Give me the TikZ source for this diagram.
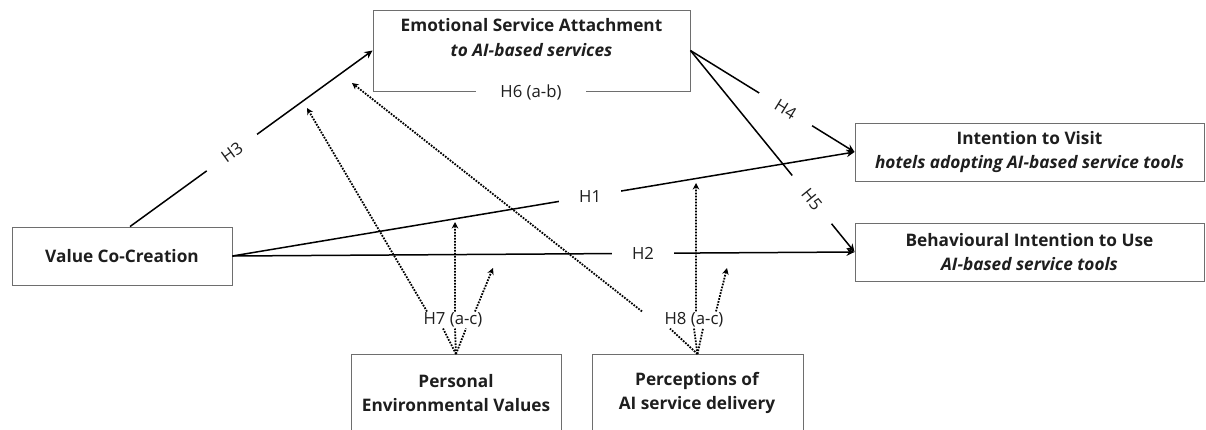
\documentclass[tikz,border=0pt]{standalone}
\usepackage{fontspec}
\setmainfont{Open Sans}
\usetikzlibrary{arrows.meta}
\definecolor{boxgray}{HTML}{6E6E6E}
\definecolor{txt}{HTML}{1E1E1E}
\begin{document}
\begin{tikzpicture}[x=1bp,y=-1bp,
  box/.style={draw=boxgray, line width=0.9bp, rectangle, inner sep=0pt, align=center,
              font=\bfseries\fontsize{17.3}{25}\selectfont, text=txt},
  btxt/.style={inner sep=0pt, align=center, font=\bfseries\fontsize{17.3}{24.5}\selectfont, text=txt},
  hl/.style={fill=white, inner xsep=20bp, inner ysep=2bp, font=\fontsize{16.8}{19}\selectfont, text=txt},
  ml/.style={inner sep=2bp, font=\fontsize{16.8}{19}\selectfont, text=txt},
  conn/.style={draw=black, line width=1.5bp, -{Stealth[length=8bp,width=7.5bp]}},
  dotarr/.style={draw=black, line width=1.8bp, dash pattern=on 1.7bp off 1.3bp, -{Stealth[length=6.5bp,width=6.5bp]}},
  dotln/.style={draw=black, line width=1.8bp, dash pattern=on 1.7bp off 1.3bp}
]
\clip (0,0) rectangle (1206,429);
\fill[white] (0,0) rectangle (1206,429);

% boxes
\node[box, minimum width=317bp, minimum height=81bp] (esa) at (531.5,50.5) {};
\node[btxt] (esaT) at (531.5,37.5) {Emotional Service Attachment\\\textit{to AI-based services}};
\node[box, minimum width=220bp, minimum height=58bp] (vcc) at (122,256) {Value Co-Creation};
\node[box, minimum width=349bp, minimum height=58bp] (iv) at (1029.5,152) {Intention to Visit\\\textit{hotels adopting AI-based service tools}};
\node[box, minimum width=349bp, minimum height=58bp] (bi) at (1029.5,252) {Behavioural Intention to Use\\\textit{AI-based service tools}};
\node[box, minimum width=210bp, minimum height=100bp, anchor=north] (pev) at (456,354) {};
\node[btxt] (pevT) at (456,393) {Personal\\Environmental Values};
\node[box, minimum width=211bp, minimum height=100bp, anchor=north] (pai) at (697.5,354) {};
\node[btxt] (paiT) at (697,393) {Perceptions of\\AI service delivery};

\node[hl, inner xsep=24bp] (h6) at (531,92) {H6 (a-b)};

% main paths
\draw[conn] ([xshift=8bp]vcc.north) -- node[hl, sloped, pos=0.42] (h3) {H3} (esa.west);
\draw[conn] (vcc.east) -- node[hl, pos=0.575] (h1) {H1} (iv.west);
\draw[conn] (vcc.east) -- node[hl, pos=0.66] (h2) {H2} (bi.west);
\draw[conn] (esa.east) -- node[hl, sloped, pos=0.58] (h4) {H4} (iv.west);
\draw[conn] (esa.east) -- node[hl, sloped, pos=0.74] (h5) {H5} (bi.west);

% moderators
\coordinate (m7a) at (307,108);
\coordinate (m7b) at (455,222);
\coordinate (m7c) at (493,268);
\coordinate (m8a) at (352,83);
\coordinate (m8b) at (696,183);
\coordinate (m8c) at (727,268);

\node[ml] (h7) at (453,320) {H7 (a-c)};
\node[ml] (h8) at (694,320) {H8 (a-c)};

\draw[dotarr] ([xshift=-26bp,yshift=-1bp]h7.north) -- (m7a);
\draw[dotarr] ([xshift=2bp,yshift=-1bp]h7.north) -- (m7b);
\draw[dotarr] ([xshift=22bp,yshift=-1bp]h7.north) -- (m7c);
\draw[dotln] (pev.north) -- ([xshift=-10bp,yshift=1bp]h7.south);
\draw[dotln] (pev.north) -- ([xshift=2bp,yshift=1bp]h7.south);
\draw[dotln] (pev.north) -- ([xshift=13bp,yshift=1bp]h7.south);

\draw[dotarr] ([xshift=-52bp,yshift=-1bp]h8.north) -- (m8a);
\draw[dotarr] ([xshift=2bp,yshift=-1bp]h8.north) -- (m8b);
\draw[dotarr] ([xshift=22bp,yshift=-1bp]h8.north) -- (m8c);
\draw[dotln] (pai.north) -- ([xshift=-24bp,yshift=1bp]h8.south);
\draw[dotln] (pai.north) -- ([xshift=0bp,yshift=1bp]h8.south);
\draw[dotln] (pai.north) -- ([xshift=9bp,yshift=1bp]h8.south);
\end{tikzpicture}
\end{document}
